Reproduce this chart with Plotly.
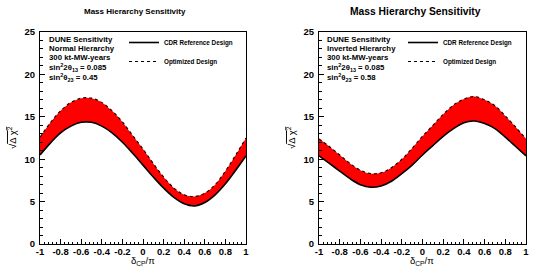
import plotly.graph_objects as go

W, H = 545, 274

# ---- data ----
delta_cp = [-1.0, -0.9, -0.8, -0.7, -0.6, -0.5, -0.4, -0.3, -0.2, -0.1, 0.0,
            0.1, 0.2, 0.3, 0.4, 0.5, 0.6, 0.7, 0.8, 0.9, 1.0]

nh_cdr = [10.5, 11.9, 13.1, 13.9, 14.35, 14.35, 13.9, 13.1, 12.0, 10.7, 9.3,
          7.9, 6.6, 5.5, 4.75, 4.5, 4.9, 5.8, 7.1, 8.7, 10.4]
nh_opt = [12.6, 14.3, 15.7, 16.7, 17.2, 17.2, 16.7, 15.7, 14.4, 12.8, 11.2,
          9.5, 7.9, 6.6, 5.8, 5.6, 6.0, 7.0, 8.6, 10.5, 12.5]

ih_cdr = [10.4, 9.5, 8.6, 7.7, 7.0, 6.7, 6.85, 7.4, 8.3, 9.3, 10.5,
          11.6, 12.7, 13.6, 14.3, 14.5, 14.2, 13.6, 12.6, 11.5, 10.4]
ih_opt = [12.4, 11.5, 10.5, 9.5, 8.7, 8.3, 8.4, 9.0, 10.0, 11.3, 12.7,
          14.0, 15.3, 16.4, 17.1, 17.4, 17.0, 16.3, 15.1, 13.8, 12.4]

x_tickvals = [-1, -0.8, -0.6, -0.4, -0.2, 0, 0.2, 0.4, 0.6, 0.8, 1]
x_ticktext = ["-1", "-0.8", "-0.6", "-0.4", "-0.2", "0", "0.2", "0.4", "0.6", "0.8", "1"]
y_tickvals = [0, 5, 10, 15, 20, 25]
y_ticktext = ["0", "5", "10", "15", "20", "25"]

title_text = "Mass Hierarchy Sensitivity"
nh_info = ["DUNE Sensitivity", "Normal Hierarchy", "300 kt-MW-years",
           "sin<sup>2</sup>2θ<sub>13</sub> = 0.085", "sin<sup>2</sup>θ<sub>23</sub> = 0.45"]
ih_info = ["DUNE Sensitivity", "Inverted Hierarchy", "300 kt-MW-years",
           "sin<sup>2</sup>2θ<sub>13</sub> = 0.085", "sin<sup>2</sup>θ<sub>23</sub> = 0.58"]
series_names = ["CDR Reference Design", "Optimized Design"]

FONT = "Liberation Sans, Arial, Helvetica, sans-serif"

def px(x):
    return x / W

def py(y):
    return 1 - y / H

fig = go.Figure()

panels = [
    (nh_cdr, nh_opt, "x", "y", "legend"),
    (ih_cdr, ih_opt, "x2", "y2", "legend2"),
]
for lo, hi, xa, ya, lg in panels:
    fig.add_trace(go.Scatter(x=delta_cp, y=lo, xaxis=xa, yaxis=ya, mode="lines",
                             line=dict(width=0, shape="spline", color="red"),
                             showlegend=False, hoverinfo="skip"))
    fig.add_trace(go.Scatter(x=delta_cp, y=hi, xaxis=xa, yaxis=ya, mode="lines",
                             line=dict(width=0, shape="spline", color="red"),
                             fill="tonexty", fillcolor="#ff0000",
                             showlegend=False, hoverinfo="skip"))
    fig.add_trace(go.Scatter(x=delta_cp, y=lo, xaxis=xa, yaxis=ya, mode="lines",
                             line=dict(width=1.6, shape="spline", color="black"),
                             name=series_names[0], legend=lg))
    fig.add_trace(go.Scatter(x=delta_cp, y=hi, xaxis=xa, yaxis=ya, mode="lines",
                             line=dict(width=1.1, shape="spline", color="black", dash="dot"),
                             name=series_names[1], legend=lg))

tickfont = dict(family=FONT, size=9.5, color="black", weight="bold")

def xaxis(domain, anchor):
    return dict(domain=domain, anchor=anchor, range=[-1, 1], showline=True, mirror=True,
                linecolor="black", linewidth=1, ticks="inside", ticklen=5, tickwidth=1,
                tickcolor="black", tickvals=x_tickvals, ticktext=x_ticktext,
                tickfont=tickfont, showgrid=False, zeroline=False, automargin=False,
                minor=dict(ticks="inside", dtick=0.04, tick0=-1, ticklen=2.5,
                           tickwidth=1, tickcolor="black", showgrid=False),
                ticklabelstandoff=-1, fixedrange=True)

def yaxis(domain, anchor):
    return dict(domain=domain, anchor=anchor, range=[0, 25], showline=True, mirror=True,
                linecolor="black", linewidth=1, ticks="inside", ticklen=5, tickwidth=1,
                tickcolor="black", tickvals=y_tickvals, ticktext=y_ticktext,
                tickfont=tickfont, showgrid=False, zeroline=False, automargin=False,
                minor=dict(ticks="inside", dtick=1, tick0=0, ticklen=2.5,
                           tickwidth=1, tickcolor="black", showgrid=False),
                ticklabelstandoff=2, fixedrange=True)

legfont = dict(family=FONT, size=6.3, color="black", weight="bold")
ydom = [py(244), py(32)]
fig.update_layout(
    width=W, height=H,
    margin=dict(l=0, r=0, t=0, b=0),
    paper_bgcolor="white", plot_bgcolor="white",
    xaxis=xaxis([px(40), px(246)], "y"),
    yaxis=yaxis(ydom, "x"),
    xaxis2=xaxis([px(319), px(526)], "y2"),
    yaxis2=yaxis(ydom, "x2"),
    showlegend=True,
    legend=dict(x=px(124), y=py(28), xanchor="left", yanchor="top", traceorder="normal",
                bgcolor="rgba(0,0,0,0)", borderwidth=0, itemwidth=30, font=legfont),
    legend2=dict(x=px(403), y=py(28), xanchor="left", yanchor="top", traceorder="normal",
                 bgcolor="rgba(0,0,0,0)", borderwidth=0, itemwidth=30, font=legfont),
)

ann = []
def add_text(x, y, text, size, xanchor="center", angle=0, bold=False):
    ann.append(dict(x=px(x), y=py(y), xref="paper", yref="paper", text=text,
                    showarrow=False, xanchor=xanchor, yanchor="middle", textangle=angle,
                    font=dict(family=FONT, size=size, color="black",
                              weight="bold" if bold else "normal")))

# titles
add_text(135, 11, title_text, 8, bold=True)
add_text(415, 12, title_text, 10.3, bold=True)
# info blocks
line_y = [39, 48.5, 58, 67.5, 77]
for info, x0 in [(nh_info, 46.5), (ih_info, 325)]:
    for t, yy in zip(info, line_y):
        add_text(x0, yy, t, 7.8, xanchor="left", bold=True)
# axis titles
ytitle = "√<span style='text-decoration:overline'>Δ χ<sup>2</sup></span>"
for xc in [12, 291]:
    add_text(xc, 138, ytitle, 9.5, angle=-90)
for xc in [143, 422]:
    add_text(xc, 261, "δ<sub>CP</sub>/π", 9.5)
fig.update_layout(annotations=ann)

fig.write_html("out.html", config={"displayModeBar": False},
               post_script="document.body.style.margin='0';")
